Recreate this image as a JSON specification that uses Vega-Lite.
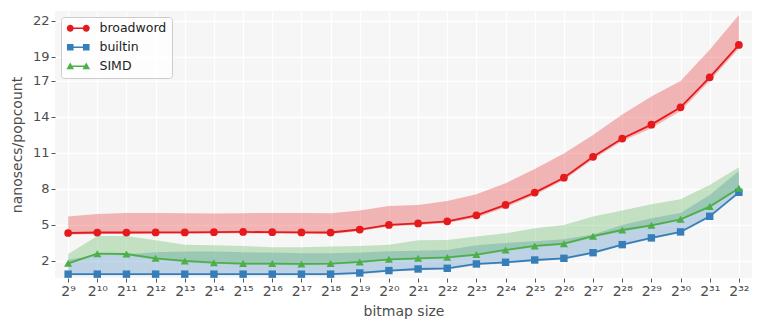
{
  "$schema": "https://vega.github.io/schema/vega-lite/v6.json",
  "width": 697,
  "height": 267,
  "autosize": "none",
  "padding": {"left": 55, "top": 11, "right": 11, "bottom": 53},
  "background": "white",
  "config": {
    "font": "DejaVu Sans",
    "view": {"fill": "#f6f6f6", "stroke": null},
    "axis": {
      "domain": false,
      "grid": true,
      "gridColor": "#ffffff",
      "gridWidth": 1.3,
      "tickColor": "#555555",
      "tickSize": 4,
      "tickWidth": 1,
      "labelColor": "#4d4d4d",
      "labelFontSize": 13,
      "titleColor": "#4d4d4d",
      "titleFontSize": 14,
      "titleFontWeight": "normal",
      "labelPadding": 2,
      "labelOverlap": false,
      "labelFlush": false
    }
  },
  "data": {
    "values": [
      {"n": 9, "s": "broadword", "m": 4.33, "lo": 4.21, "hi": 5.7},
      {"n": 10, "s": "broadword", "m": 4.37, "lo": 4.25, "hi": 5.92},
      {"n": 11, "s": "broadword", "m": 4.37, "lo": 4.25, "hi": 6.0},
      {"n": 12, "s": "broadword", "m": 4.38, "lo": 4.26, "hi": 6.0},
      {"n": 13, "s": "broadword", "m": 4.38, "lo": 4.26, "hi": 5.98},
      {"n": 14, "s": "broadword", "m": 4.4, "lo": 4.28, "hi": 5.95},
      {"n": 15, "s": "broadword", "m": 4.42, "lo": 4.3, "hi": 5.98},
      {"n": 16, "s": "broadword", "m": 4.4, "lo": 4.28, "hi": 6.0},
      {"n": 17, "s": "broadword", "m": 4.38, "lo": 4.26, "hi": 6.0},
      {"n": 18, "s": "broadword", "m": 4.37, "lo": 4.25, "hi": 5.98},
      {"n": 19, "s": "broadword", "m": 4.62, "lo": 4.5, "hi": 6.2},
      {"n": 20, "s": "broadword", "m": 5.0, "lo": 4.88, "hi": 6.58},
      {"n": 21, "s": "broadword", "m": 5.13, "lo": 5.0, "hi": 6.67},
      {"n": 22, "s": "broadword", "m": 5.3, "lo": 5.17, "hi": 7.0},
      {"n": 23, "s": "broadword", "m": 5.8, "lo": 5.6, "hi": 7.56},
      {"n": 24, "s": "broadword", "m": 6.67, "lo": 6.47, "hi": 8.47},
      {"n": 25, "s": "broadword", "m": 7.7, "lo": 7.5, "hi": 9.67},
      {"n": 26, "s": "broadword", "m": 8.94, "lo": 8.74, "hi": 10.95},
      {"n": 27, "s": "broadword", "m": 10.68, "lo": 10.48, "hi": 12.5},
      {"n": 28, "s": "broadword", "m": 12.2, "lo": 12.0, "hi": 14.2},
      {"n": 29, "s": "broadword", "m": 13.36, "lo": 13.06, "hi": 15.7},
      {"n": 30, "s": "broadword", "m": 14.8, "lo": 14.5, "hi": 17.0},
      {"n": 31, "s": "broadword", "m": 17.3, "lo": 17.0, "hi": 19.6},
      {"n": 32, "s": "broadword", "m": 20.0, "lo": 19.7, "hi": 22.5},
      {"n": 9, "s": "builtin", "m": 0.9, "lo": 0.8, "hi": 2.1},
      {"n": 10, "s": "builtin", "m": 0.9, "lo": 0.8, "hi": 2.5},
      {"n": 11, "s": "builtin", "m": 0.9, "lo": 0.8, "hi": 2.55},
      {"n": 12, "s": "builtin", "m": 0.9, "lo": 0.8, "hi": 2.72},
      {"n": 13, "s": "builtin", "m": 0.9, "lo": 0.8, "hi": 2.78},
      {"n": 14, "s": "builtin", "m": 0.9, "lo": 0.8, "hi": 2.78},
      {"n": 15, "s": "builtin", "m": 0.9, "lo": 0.8, "hi": 2.72},
      {"n": 16, "s": "builtin", "m": 0.9, "lo": 0.8, "hi": 2.7},
      {"n": 17, "s": "builtin", "m": 0.9, "lo": 0.8, "hi": 2.65},
      {"n": 18, "s": "builtin", "m": 0.9, "lo": 0.8, "hi": 2.64},
      {"n": 19, "s": "builtin", "m": 1.0, "lo": 0.9, "hi": 2.7},
      {"n": 20, "s": "builtin", "m": 1.2, "lo": 1.1, "hi": 2.8},
      {"n": 21, "s": "builtin", "m": 1.33, "lo": 1.23, "hi": 2.85},
      {"n": 22, "s": "builtin", "m": 1.39, "lo": 1.29, "hi": 2.92},
      {"n": 23, "s": "builtin", "m": 1.75, "lo": 1.65, "hi": 3.3},
      {"n": 24, "s": "builtin", "m": 1.89, "lo": 1.79, "hi": 3.5},
      {"n": 25, "s": "builtin", "m": 2.08, "lo": 1.98, "hi": 3.65},
      {"n": 26, "s": "builtin", "m": 2.22, "lo": 2.12, "hi": 3.8},
      {"n": 27, "s": "builtin", "m": 2.69, "lo": 2.59, "hi": 4.2},
      {"n": 28, "s": "builtin", "m": 3.36, "lo": 3.26, "hi": 5.0},
      {"n": 29, "s": "builtin", "m": 3.92, "lo": 3.82, "hi": 5.56},
      {"n": 30, "s": "builtin", "m": 4.42, "lo": 4.32, "hi": 6.0},
      {"n": 31, "s": "builtin", "m": 5.72, "lo": 5.6, "hi": 7.5},
      {"n": 32, "s": "builtin", "m": 7.72, "lo": 7.6, "hi": 9.5},
      {"n": 9, "s": "SIMD", "m": 1.8, "lo": 1.7, "hi": 2.58},
      {"n": 10, "s": "SIMD", "m": 2.61, "lo": 2.51, "hi": 4.08},
      {"n": 11, "s": "SIMD", "m": 2.58, "lo": 2.48, "hi": 4.08},
      {"n": 12, "s": "SIMD", "m": 2.22, "lo": 2.12, "hi": 3.72},
      {"n": 13, "s": "SIMD", "m": 2.0, "lo": 1.9, "hi": 3.36},
      {"n": 14, "s": "SIMD", "m": 1.86, "lo": 1.76, "hi": 3.3},
      {"n": 15, "s": "SIMD", "m": 1.78, "lo": 1.68, "hi": 3.25},
      {"n": 16, "s": "SIMD", "m": 1.78, "lo": 1.68, "hi": 3.14},
      {"n": 17, "s": "SIMD", "m": 1.75, "lo": 1.65, "hi": 3.14},
      {"n": 18, "s": "SIMD", "m": 1.78, "lo": 1.68, "hi": 3.2},
      {"n": 19, "s": "SIMD", "m": 1.92, "lo": 1.82, "hi": 3.25},
      {"n": 20, "s": "SIMD", "m": 2.14, "lo": 2.04, "hi": 3.36},
      {"n": 21, "s": "SIMD", "m": 2.22, "lo": 2.12, "hi": 3.72},
      {"n": 22, "s": "SIMD", "m": 2.3, "lo": 2.2, "hi": 3.75},
      {"n": 23, "s": "SIMD", "m": 2.53, "lo": 2.43, "hi": 4.03},
      {"n": 24, "s": "SIMD", "m": 2.92, "lo": 2.82, "hi": 4.3},
      {"n": 25, "s": "SIMD", "m": 3.25, "lo": 3.15, "hi": 4.72},
      {"n": 26, "s": "SIMD", "m": 3.44, "lo": 3.34, "hi": 5.0},
      {"n": 27, "s": "SIMD", "m": 4.06, "lo": 3.96, "hi": 5.7},
      {"n": 28, "s": "SIMD", "m": 4.58, "lo": 4.48, "hi": 6.2},
      {"n": 29, "s": "SIMD", "m": 4.97, "lo": 4.87, "hi": 6.72},
      {"n": 30, "s": "SIMD", "m": 5.47, "lo": 5.37, "hi": 7.14},
      {"n": 31, "s": "SIMD", "m": 6.53, "lo": 6.43, "hi": 8.33},
      {"n": 32, "s": "SIMD", "m": 8.06, "lo": 7.96, "hi": 9.8}
    ]
  },
  "encoding": {
    "x": {
      "field": "n",
      "type": "quantitative",
      "scale": {"domain": [8.55, 32.45], "nice": false, "zero": false},
      "axis": {
        "title": "bitmap size",
        "values": [9,10,11,12,13,14,15,16,17,18,19,20,21,22,23,24,25,26,27,28,29,30,31,32],
        "tickCount": 40,
        "labelExpr": "'2' + (datum.value >= 10 ? ['⁰','¹','²','³','⁴','⁵','⁶','⁷','⁸','⁹'][floor(datum.value / 10)] : '') + ['⁰','¹','²','³','⁴','⁵','⁶','⁷','⁸','⁹'][datum.value % 10]",
        "labelFontSize": 14,
        "titlePadding": 6
      }
    },
    "y": {
      "field": "m",
      "type": "quantitative",
      "scale": {"domain": [0.58, 22.83], "nice": false, "zero": false},
      "axis": {
        "title": "nanosecs/popcount",
        "values": [2, 5, 8, 11, 14, 17, 19, 22],
        "format": "d",
        "tickCount": 40,
        "titlePadding": 8
      }
    },
    "color": {
      "field": "s",
      "type": "nominal",
      "scale": {"domain": ["broadword", "builtin", "SIMD"], "range": ["#e41a1c", "#377eb8", "#4daf4a"]},
      "legend": {
        "title": null,
        "orient": "top-left",
        "offset": 6,
        "padding": 5,
        "rowPadding": 6,
        "symbolSize": 100,
        "symbolOffset": 6,
        "labelOffset": 15,
        "labelFontSize": 12.5,
        "labelColor": "#222222",
        "strokeColor": "#cccccc",
        "fillColor": "rgba(255,255,255,0.8)",
        "cornerRadius": 3,
        "encode": {
          "symbols": {
            "update": {
              "shape": {"signal": "datum.value === 'broadword' ? 'M-1.6,-0.16H1.6V0.16H-1.6Z M-0.9,0A0.7,0.7 0 1 1 -2.3,0A0.7,0.7 0 1 1 -0.9,0Z M2.3,0A0.7,0.7 0 1 1 0.9,0A0.7,0.7 0 1 1 2.3,0Z' : datum.value === 'builtin' ? 'M-1.6,-0.16H1.6V0.16H-1.6Z M-2.26,-0.66H-0.94V0.66H-2.26Z M0.94,-0.66H2.26V0.66H0.94Z' : 'M-1.6,-0.16H1.6V0.16H-1.6Z M-1.6,-0.76L-0.84,0.6H-2.36Z M1.6,-0.76L2.36,0.6H0.84Z'"},
              "fill": {"signal": "datum.value === 'broadword' ? '#e41a1c' : datum.value === 'builtin' ? '#377eb8' : '#4daf4a'"},
              "strokeWidth": {"value": 0},
              "opacity": {"value": 1},
              "fillOpacity": {"value": 1}
            }
          }
        }
      }
    }
  },
  "layer": [
    {
      "mark": {"type": "area", "opacity": 0.3, "interpolate": "linear"},
      "encoding": {
        "y": {"field": "lo", "type": "quantitative"},
        "y2": {"field": "hi"}
      }
    },
    {
      "mark": {"type": "line", "strokeWidth": 1.8}
    },
    {
      "transform": [{"filter": "datum.s === 'broadword'"}],
      "mark": {"type": "point", "filled": true, "opacity": 1, "size": 60, "shape": "circle"}
    },
    {
      "transform": [{"filter": "datum.s === 'builtin'"}],
      "mark": {"type": "point", "filled": true, "opacity": 1, "size": 55, "shape": "square"}
    },
    {
      "transform": [{"filter": "datum.s === 'SIMD'"}],
      "mark": {"type": "point", "filled": true, "opacity": 1, "size": 65, "shape": "triangle-up"}
    }
  ]
}
